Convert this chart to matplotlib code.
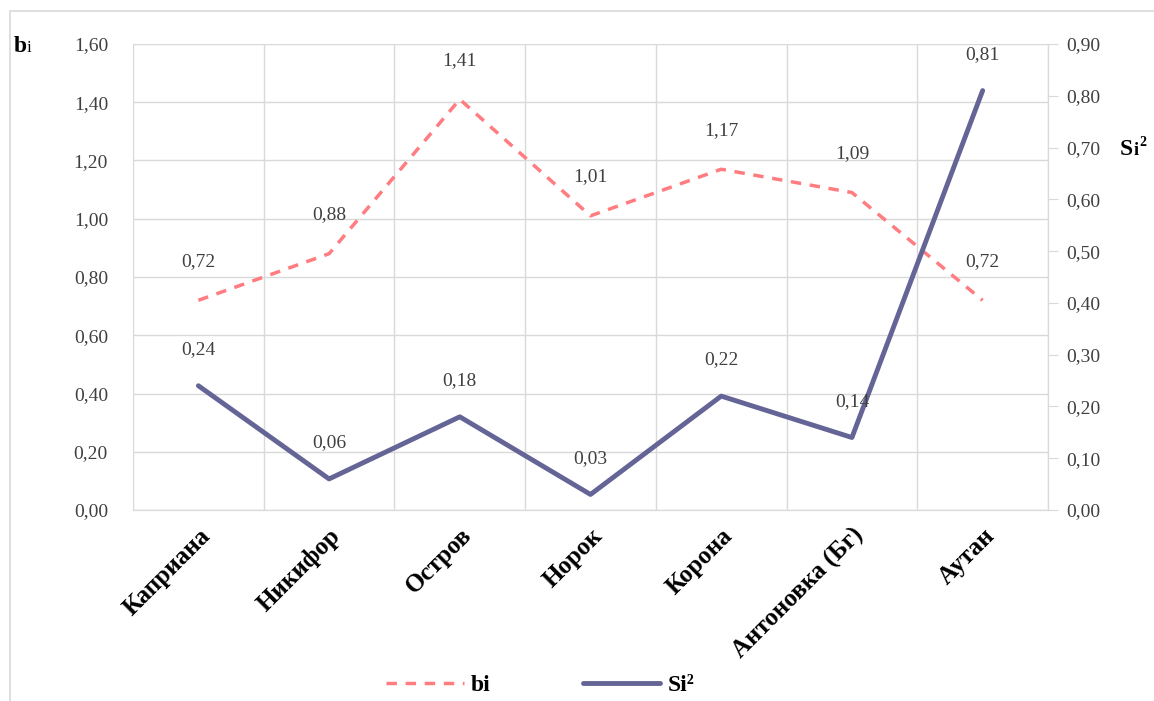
import matplotlib.pyplot as plt
from matplotlib.patches import Rectangle
from matplotlib.ticker import FuncFormatter, MultipleLocator

# data
varieties = ['Каприана', 'Никифор', 'Остров', 'Норок', 'Корона', 'Антоновка (Бг)', 'Аутан']
bi_values = [0.72, 0.88, 1.41, 1.01, 1.17, 1.09, 0.72]
si2_values = [0.24, 0.06, 0.18, 0.03, 0.22, 0.14, 0.81]

BI_COLOR = '#FF7C80'
SI_COLOR = '#646496'
GRID = '#D9D9D9'
TXT = '#404040'

plt.rcParams['font.family'] = ['Liberation Serif', 'DejaVu Serif']


def comma(v, pos=None):
    return f"{v:.2f}".replace('.', ',')


fig = plt.figure(figsize=(11.54, 7.01), dpi=100)
W, H = 1154, 701
ax = fig.add_axes([133 / W, 1 - 510 / H, (1048 - 133) / W, (510 - 44) / H])
ax2 = ax.twinx()

x = list(range(len(varieties)))

# outer chart border
fig.patches.append(Rectangle((10 / W, -0.1), 1.2, 1 - 11 / H + 0.1, transform=fig.transFigure,
                             fill=False, edgecolor=GRID, linewidth=1.2))

l1, = ax.plot(x, bi_values, color=BI_COLOR, linewidth=2.5, linestyle=(0, (3, 2.5)), label='bi')
l2, = ax2.plot(x, si2_values, color=SI_COLOR, linewidth=3.5, solid_capstyle='round', label='Si²')

ax.set_xlim(-0.5, len(varieties) - 0.5)
ax.set_ylim(0, 1.6)
ax2.set_ylim(0, 0.9)
ax.yaxis.set_major_locator(MultipleLocator(0.2))
ax2.yaxis.set_major_locator(MultipleLocator(0.1))
ax.yaxis.set_major_formatter(FuncFormatter(comma))
ax2.yaxis.set_major_formatter(FuncFormatter(comma))

# vertical grid at category boundaries
ax.set_xticks([i + 0.5 for i in range(-1, len(varieties))], minor=True)
ax.grid(True, which='minor', axis='x', color=GRID, linewidth=1)
ax.grid(True, which='major', axis='y', color=GRID, linewidth=1)
ax.set_axisbelow(True)
ax.set_xticks(x)
ax.set_xticklabels(varieties, rotation=45, ha='right', rotation_mode='anchor',
                   fontsize=18, fontweight='bold', color='black')
ax.tick_params(axis='x', which='both', length=0, pad=10)
ax.tick_params(axis='y', length=0, labelsize=14, labelcolor=TXT, pad=18)
ax2.tick_params(axis='y', length=7, color=GRID, labelsize=14, labelcolor=TXT, pad=6)

for a in (ax, ax2):
    for side in ('top', 'left'):
        a.spines[side].set_visible(False)
    a.spines['right'].set_color(GRID)
    a.spines['bottom'].set_color(GRID)

for xi, v in zip(x, bi_values):
    ax.annotate(comma(v), (xi, v), xytext=(0, 28), textcoords='offset points',
                ha='center', va='center', fontsize=14, color=TXT)
for xi, v in zip(x, si2_values):
    ax2.annotate(comma(v), (xi, v), xytext=(0, 26), textcoords='offset points',
                 ha='center', va='center', fontsize=14, color=TXT)

# axis titles
fig.text(14 / W, 1 - 52 / H, 'b', fontsize=17, fontweight='bold', va='baseline')
fig.text(27 / W, 1 - 52 / H, 'i', fontsize=12, va='baseline')
fig.text(1120 / W, 1 - 155 / H, 'S', fontsize=17, fontweight='bold', va='baseline')
fig.text(1134 / W, 1 - 155 / H, 'i', fontsize=13, fontweight='bold', va='baseline')
fig.text(1139 / W, 1 - 146 / H, '2', fontsize=10, fontweight='bold', va='baseline')

leg = fig.legend(handles=[l1, l2], loc='center', bbox_to_anchor=(540 / W, 1 - 685 / H), ncol=2,
                 frameon=False, prop={'family': 'Liberation Serif', 'size': 17, 'weight': 'bold'},
                 handlelength=3.3, columnspacing=3.9, handletextpad=0.3)

fig.savefig('out.png', dpi=100)
